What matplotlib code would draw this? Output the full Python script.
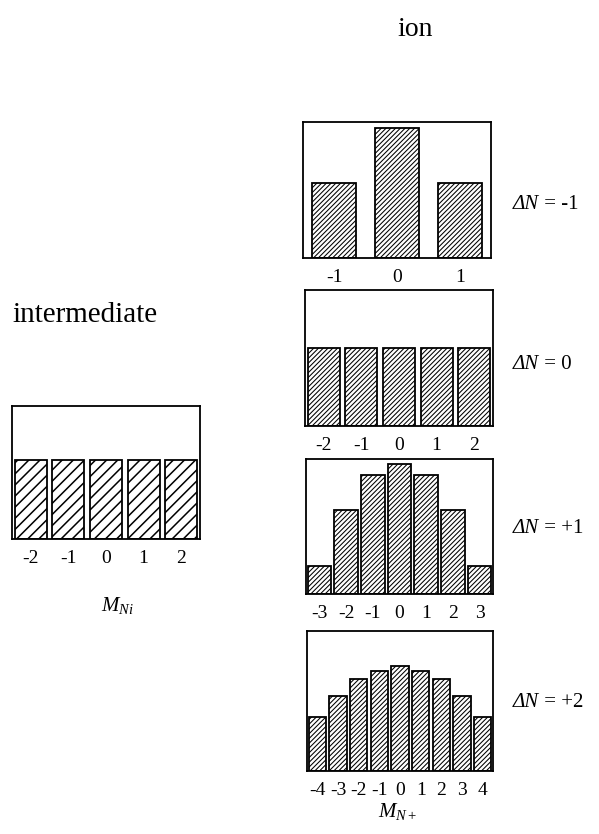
import matplotlib.pyplot as plt

plt.rcParams['font.family'] = ['Liberation Serif', 'DejaVu Serif']
plt.rcParams['mathtext.fontset'] = 'custom'
plt.rcParams['mathtext.rm'] = 'Liberation Serif'
plt.rcParams['mathtext.it'] = 'Liberation Serif:italic'

# intermediate state distribution over M_Ni
inter_m = [-2, -1, 0, 1, 2]
inter_vals = [0.61, 0.61, 0.61, 0.61, 0.61]

# ion distributions over M_N+ for each Delta N
ion_labels = ['-1', '0', '+1', '+2']
ion_m = [
    [-1, 0, 1],
    [-2, -1, 0, 1, 2],
    [-3, -2, -1, 0, 1, 2, 3],
    [-4, -3, -2, -1, 0, 1, 2, 3, 4],
]
ion_vals = [
    [0.58, 1.0, 0.58],
    [0.60, 0.60, 0.60, 0.60, 0.60],
    [0.215, 0.646, 0.915, 1.0, 0.915, 0.646, 0.215],
    [0.415, 0.58, 0.71, 0.77, 0.81, 0.77, 0.71, 0.58, 0.415],
]

W, H = 599, 834
fig = plt.figure(figsize=(W / 100, H / 100), dpi=100)


def box(l, t, r, b):
    return [l / W, 1 - b / H, (r - l) / W, (b - t) / H]


def panel(rect, m, vals, width, hatch, hlw, ytop):
    plt.rcParams['hatch.linewidth'] = hlw
    ax = fig.add_axes(rect)
    ax.bar(m, vals, width=width, color='white', edgecolor='black',
           linewidth=1.3, hatch=hatch)
    ax.set_xlim(min(m) - 0.5, max(m) + 0.5)
    ax.set_ylim(0, ytop)
    ax.set_yticks([])
    ax.set_xticks(m)
    ax.set_xticklabels([str(v) for v in m])
    ax.tick_params(axis='x', length=0, pad=8, labelsize=14)
    for s in ax.spines.values():
        s.set_linewidth(1.3)
    return ax


# intermediate panel
panel(box(12, 406, 200, 539), inter_m, inter_vals, 0.85, '///', 1.1, 133 / 130)

# ion panels
ion_boxes = [(303, 122, 491, 258), (305, 290, 493, 426),
             (306, 459, 493, 594), (307, 631, 493, 771)]
ion_widths = [0.7, 0.85, 0.88, 0.85]
label_y = [209, 369, 533, 707]
for i in range(4):
    l, t, r, b = ion_boxes[i]
    panel(box(l, t, r, b), ion_m[i], ion_vals[i], ion_widths[i],
          '///////', 0.75, (b - t) / 130)
    t1 = fig.text(513 / W, 1 - label_y[i] / H, '\u0394N', style='italic',
                  fontsize=15, ha='left', va='baseline')
    fig.add_artist(plt.Annotation(' = ' + ion_labels[i], xy=(1, 0),
                                  xycoords=t1, fontsize=15,
                                  ha='left', va='bottom'))

fig.text(415 / W, 1 - 30 / H, 'ion', fontsize=20, ha='center', va='center')
fig.text(85 / W, 1 - 315 / H, 'intermediate', fontsize=21,
         ha='center', va='center')
fig.text(118 / W, 1 - 605 / H, r'$M_{Ni}$', fontsize=15,
         ha='center', va='center')
fig.text(398 / W, 1 - 812 / H, r'$M_{N+}$', fontsize=15,
         ha='center', va='center')

fig.savefig('out.png', dpi=100)
